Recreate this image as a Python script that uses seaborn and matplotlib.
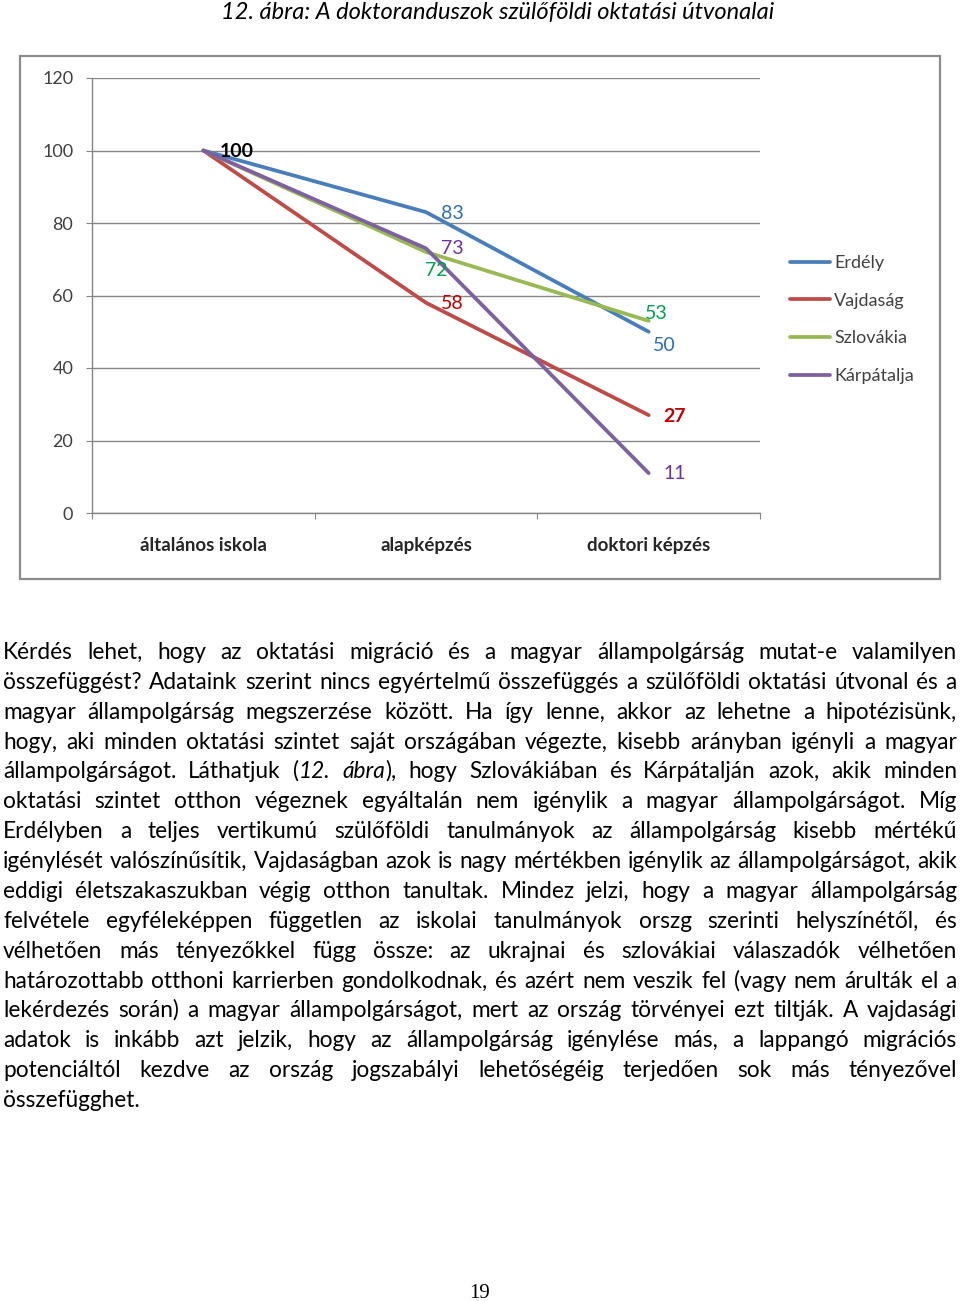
import numpy as np
import pandas as pd
import matplotlib
matplotlib.use('Agg')
import matplotlib.pyplot as plt
import seaborn as sns
from matplotlib.patches import Rectangle
from matplotlib.font_manager import FontProperties
from matplotlib.backends.backend_agg import get_hinting_flag

# ---------------- data ----------------
stages = ['általános iskola', 'alapképzés', 'doktori képzés']
regions = ['Erdély', 'Vajdaság', 'Szlovákia', 'Kárpátalja']
erdely = [100, 83, 50]
vajdasag = [100, 58, 27]
szlovakia = [100, 72, 53]
karpatalja = [100, 73, 11]
y_ticks = [0, 20, 40, 60, 80, 100, 120]

title_text = '12. ábra: A doktoranduszok szülőföldi oktatási útvonalai'
body_lines = [
    'Kérdés lehet, hogy az oktatási migráció és a magyar állampolgárság mutat-e valamilyen',
    'összefüggést? Adataink szerint nincs egyértelmű összefüggés a szülőföldi oktatási útvonal és a',
    'magyar állampolgárság megszerzése között. Ha így lenne, akkor az lehetne a hipotézisünk,',
    'hogy, aki minden oktatási szintet saját országában végezte, kisebb arányban igényli a magyar',
    'állampolgárságot. Láthatjuk (*12.* *ábra*), hogy Szlovákiában és Kárpátalján azok, akik minden',
    'oktatási szintet otthon végeznek egyáltalán nem igénylik a magyar állampolgárságot. Míg',
    'Erdélyben a teljes vertikumú szülőföldi tanulmányok az állampolgárság kisebb mértékű',
    'igénylését valószínűsítik, Vajdaságban azok is nagy mértékben igénylik az állampolgárságot, akik',
    'eddigi életszakaszukban végig otthon tanultak. Mindez jelzi, hogy a magyar állampolgárság',
    'felvétele egyféleképpen független az iskolai tanulmányok orszg szerinti helyszínétől, és',
    'vélhetően más tényezőkkel függ össze: az ukrajnai és szlovákiai válaszadók vélhetően',
    'határozottabb otthoni karrierben gondolkodnak, és azért nem veszik fel (vagy nem árulták el a',
    'lekérdezés során) a magyar állampolgárságot, mert az ország törvényei ezt tiltják. A vajdasági',
    'adatok is inkább azt jelzik, hogy az állampolgárság igénylése más, a lappangó migrációs',
    'potenciáltól kezdve az ország jogszabályi lehetőségéig terjedően sok más tényezővel',
    'összefügghet.',
]
page_number = '19'

# ---------------- styles ----------------
line_colors = {'Erdély': '#4A7EBB', 'Vajdaság': '#BE4B48',
               'Szlovákia': '#98B954', 'Kárpátalja': '#7D60A0'}
label_colors = {'Erdély': '#2E6FB5', 'Vajdaság': '#C00000',
                'Szlovákia': '#00A050', 'Kárpátalja': '#7030A0'}
# (region, stage index, dx px, dy px, ha, weight, color override)
label_specs = [
    ('Erdély', 0, 16, -1, 'left', 'bold', '#000000'),
    ('Erdély', 1, 15, -1, 'left', 'normal', None),
    ('Kárpátalja', 1, 15, 0, 'left', 'normal', None),
    ('Szlovákia', 1, 10, -18, 'center', 'normal', None),
    ('Vajdaság', 1, 15, -1, 'left', 'normal', None),
    ('Szlovákia', 2, 8, 7, 'center', 'normal', None),
    ('Erdély', 2, 16, -14, 'center', 'normal', None),
    ('Vajdaság', 2, 26, -1, 'center', 'bold', None),
    ('Kárpátalja', 2, 26, 0, 'center', 'normal', None),
]
series = {'Erdély': erdely, 'Vajdaság': vajdasag,
          'Szlovákia': szlovakia, 'Kárpátalja': karpatalja}

sns.set_style('white')
plt.rcParams['font.family'] = ['Lato', 'DejaVu Sans']

W, H = 960, 1301
fig = plt.figure(figsize=(9.6, 13.01), dpi=100)


def fx(px):
    return px / W


def fy(py):
    return 1 - py / H


# chart border
fig.add_artist(Rectangle((fx(20), fy(579)), fx(940) - fx(20), fy(56) - fy(579),
                         transform=fig.transFigure, fill=False,
                         edgecolor='#8C8C8C', lw=1.6))

ax = fig.add_axes([fx(92), fy(513), (760 - 92) / W, (513 - 78) / H])

df = pd.DataFrame({
    'stage': stages * len(regions),
    'region': np.repeat(regions, len(stages)),
    'value': erdely + vajdasag + szlovakia + karpatalja,
})

sns.lineplot(data=df, x='stage', y='value', hue='region', hue_order=regions,
             palette=line_colors, sort=False, lw=2.7, ax=ax, legend=True,
             solid_capstyle='round', solid_joinstyle='round')

ax.set_xlim(-0.5, 2.5)
ax.set_ylim(0, 120)
ax.set_yticks(y_ticks)
ax.yaxis.grid(True, color='#868686', lw=1)
ax.set_axisbelow(True)
ax.set_xticks([-0.5, 0.5, 1.5, 2.5])
ax.set_xticklabels([])
ax.set_xticks([0, 1, 2], minor=True)
ax.set_xticklabels(stages, minor=True, fontweight='bold', fontsize=13.5,
                   color='#262626')
ax.tick_params(axis='x', which='major', length=4.5, color='#868686',
               direction='out', bottom=True)
ax.tick_params(axis='x', which='minor', length=0, pad=17, bottom=True,
               labelbottom=True)
ax.tick_params(axis='y', length=4.5, color='#868686', left=True, pad=9,
               labelsize=13, labelcolor='#404040')
sns.despine(ax=ax)
for s in ['left', 'bottom']:
    ax.spines[s].set_color('#868686')
    ax.spines[s].set_linewidth(1)
ax.set_xlabel('')
ax.set_ylabel('')

for reg, si, dx, dy, ha, wt, col in label_specs:
    v = series[reg][si]
    ax.annotate(str(v), xy=(si, v), xytext=(dx, dy), textcoords='offset pixels',
                ha=ha, va='center', fontsize=14, fontweight=wt,
                color=col if col else label_colors[reg])

handles, labels = ax.get_legend_handles_labels()
if ax.get_legend() is not None:
    ax.get_legend().remove()
leg = fig.legend(handles, labels, loc='upper left',
                 bbox_to_anchor=(fx(790), fy(255)), frameon=False, fontsize=13,
                 handlelength=2.2, handletextpad=0.25, labelspacing=1.2,
                 borderpad=0, borderaxespad=0)
for t in leg.get_texts():
    t.set_color('#404040')
for h in leg.legend_handles:
    h.set_linewidth(2.7)

renderer = fig.canvas.get_renderer()


def measure(s, fs, italic=False):
    t = fig.text(0, 0, s, fontsize=fs, style='italic' if italic else 'normal')
    w = t.get_window_extent(renderer).width
    t.remove()
    return w


def baseline_shift(s, fs, italic=False):
    # amount (px) to move the anchor so that the Agg raster baseline lands
    # exactly on an integer row, whatever the ascent/descent of the word
    try:
        fp = FontProperties(family=plt.rcParams['font.family'], size=fs,
                            style='italic' if italic else 'normal')
        font = renderer._prepare_font(fp)
        font.set_text(s, 0, flags=get_hinting_flag())
        bb = font.get_bbox()
        a = bb[3] / 64.0
        d = -bb[1] / 64.0
        return -d + np.floor(a + d) - np.floor(a)
    except Exception:
        return 0.0


# title, fitted to its width
t_w = measure(title_text, 15, True)
t_fs = 15 * 555 / t_w
fig.text(fx(498), fy(12), title_text, fontsize=t_fs, style='italic',
         ha='center', va='center', color='#000000')


# body text, justified word by word
def segments(word):
    parts = word.split('*')
    return [(p, i % 2 == 1) for i, p in enumerate(parts) if p]


def word_width(word, fs):
    return sum(measure(p, fs, it) for p, it in segments(word))


fs0 = 15
space0 = measure('a a', fs0) - measure('aa', fs0)
maxw = 0
for ln in body_lines[:-1]:
    words = ln.split(' ')
    w = sum(word_width(wd, fs0) for wd in words) + space0 * (len(words) - 1)
    maxw = max(maxw, w)
fs = fs0 * 950 / maxw
space = measure('a a', fs) - measure('aa', fs)

left, right = 3, 957
for i, ln in enumerate(body_lines):
    words = ln.split(' ')
    widths = [word_width(wd, fs) for wd in words]
    if i < len(body_lines) - 1 and len(words) > 1:
        gap = (right - left - sum(widths)) / (len(words) - 1)
    else:
        gap = space
    base = round(652 + i * 29.87 + 7)
    x = left
    for wd, ww in zip(words, widths):
        xx = x
        for p, it in segments(wd):
            ytop = base + baseline_shift(p, fs, it)
            fig.text(fx(xx), fy(ytop), p, fontsize=fs,
                     style='italic' if it else 'normal',
                     ha='left', va='baseline', color='#000000')
            xx += measure(p, fs, it)
        x += ww + gap

fig.text(fx(480), fy(1293), page_number, fontsize=15, ha='center', va='center',
         family=['Liberation Serif', 'DejaVu Serif'], color='#000000')

fig.savefig('out.png', dpi=100)
